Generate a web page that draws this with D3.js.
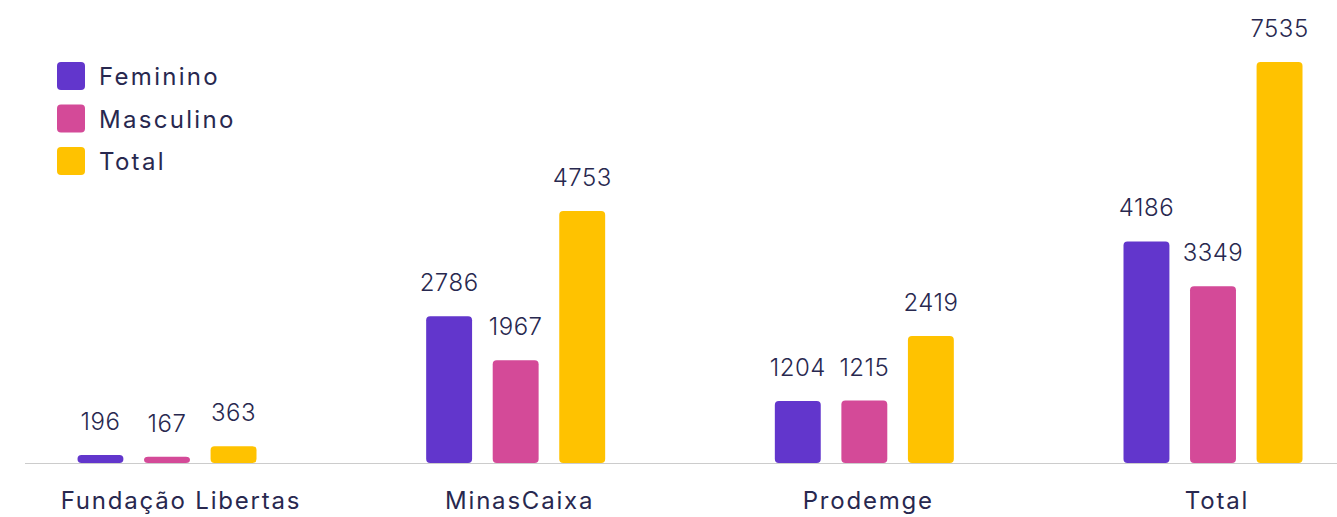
<!DOCTYPE html>
<html>
<head>
<meta charset="utf-8">
<script src="https://cdn.jsdelivr.net/npm/d3@7"></script>
<style>
  body { margin: 0; background: #fff; }
  svg { display: block; font-family: Inter, "Open Sans", sans-serif; }
</style>
</head>
<body>
<svg id="chart" width="1337" height="517"></svg>
<script>
// data
var groups = ["Fundação Libertas", "MinasCaixa", "Prodemge", "Total"];
var seriesNames = ["Feminino", "Masculino", "Total"];
var feminino = [196, 2786, 1204, 4186];
var masculino = [167, 1967, 1215, 3349];
var total = [363, 4753, 2419, 7535];

var colors = ["#6236CC", "#D44A98", "#FFC200"];
var textColor = "#28284F";

var svg = d3.select("#chart");
var baseY = 463;

var values = [feminino, masculino, total];
var rows = [];
groups.forEach(function (g, gi) {
    seriesNames.forEach(function (s, si) {
        rows.push({ group: g, series: s, value: values[si][gi], si: si });
    });
});

// group centres
var x0 = d3.scalePoint().domain(groups).range([167, 1213]);
// bars inside a group
var x1 = d3.scaleBand().domain(seriesNames).range([-89.5, 89.5]).paddingInner(0.31).paddingOuter(0);
// zero sits a little under the axis line, bars are cut at the line
var y = d3.scaleLinear().domain([0, d3.max(total)]).range([465.6, 62]);

// baseline
svg.append("line")
    .attr("x1", 25).attr("x2", 1337)
    .attr("y1", baseY + 0.5).attr("y2", baseY + 0.5)
    .attr("stroke", "#cccccc").attr("stroke-width", 1);

var bars = svg.append("g");
bars.selectAll("rect")
    .data(rows)
    .join("rect")
    .attr("x", d => x0(d.group) + x1(d.series))
    .attr("width", x1.bandwidth())
    .attr("y", d => y(d.value))
    .attr("height", d => baseY - y(d.value))
    .attr("rx", 4)
    .attr("fill", d => colors[d.si]);

bars.selectAll("text")
    .data(rows)
    .join("text")
    .attr("x", d => x0(d.group) + x1(d.series) + x1.bandwidth() / 2)
    .attr("y", d => y(d.value) - 25)
    .attr("text-anchor", "middle")
    .attr("font-size", 24)
    .attr("font-weight", 300)
    .attr("letter-spacing", 0.5)
    .attr("fill", textColor)
    .text(d => d.value);

// category labels
svg.append("g").selectAll("text")
    .data(groups)
    .join("text")
    .attr("x", (d, i) => x0(d) + (i == 0 ? 14 : 4))
    .attr("y", 509)
    .attr("text-anchor", "middle")
    .attr("font-size", 24)
    .attr("letter-spacing", 1.8)
    .attr("fill", textColor)
    .text(d => d);

// legend
var legend = svg.append("g").attr("transform", "translate(57,62)");
var items = legend.selectAll("g")
    .data(seriesNames)
    .join("g")
    .attr("transform", (d, i) => "translate(0," + i * 42.5 + ")");
items.append("rect")
    .attr("width", 28).attr("height", 28).attr("rx", 4)
    .attr("fill", (d, i) => colors[i]);
items.append("text")
    .attr("x", 42).attr("y", 23)
    .attr("font-size", 24)
    .attr("letter-spacing", 2.3)
    .attr("fill", textColor)
    .text(d => d);
</script>
</body>
</html>
